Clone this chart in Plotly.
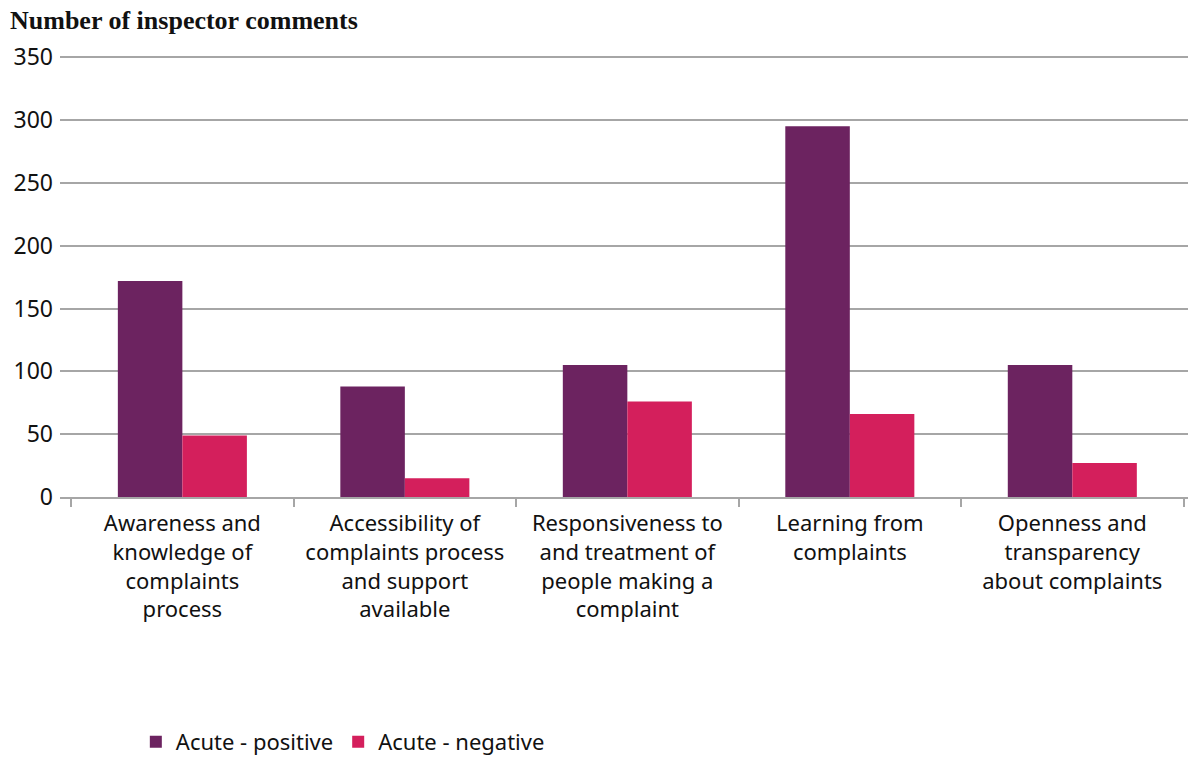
import plotly.graph_objects as go

categories = [
    "Awareness and<br>knowledge of<br>complaints<br>process",
    "Accessibility of<br>complaints process<br>and support<br>available",
    "Responsiveness to<br>and treatment of<br>people making a<br>complaint",
    "Learning from<br>complaints",
    "Openness and<br>transparency<br>about complaints",
]
acute_positive = [172, 88, 105, 295, 105]
acute_negative = [49, 15, 76, 66, 27]
y_ticks = [0, 50, 100, 150, 200, 250, 300, 350]

FONT = "Noto Sans"
fig = go.Figure()
fig.add_trace(go.Bar(x=categories, y=acute_positive, name="Acute - positive",
                     marker=dict(color="#6C2360", line=dict(width=0))))
fig.add_trace(go.Bar(x=categories, y=acute_negative, name="Acute - negative",
                     marker=dict(color="#D41F5C", line=dict(width=0))))

fig.update_layout(
    width=1190, height=760,
    margin=dict(l=60, r=2, t=56, b=263, autoexpand=False),
    paper_bgcolor="white", plot_bgcolor="white",
    barmode="group", bargap=0.42, bargroupgap=0,
    font=dict(family=FONT, color="#111111", size=21),
    title=dict(text="<b>Number of inspector comments</b>", x=10/1190, xref="container",
               xanchor="left", y=1-20/760, yref="container", yanchor="middle",
               font=dict(family="Liberation Serif", size=26, color="#111111")),
    xaxis=dict(range=[-0.55, 4.52], tickson="boundaries", ticks="outside", ticklen=8,
               tickcolor="#A6A6A6", tickwidth=2, showline=True, linecolor="#A6A6A6",
               linewidth=2, showgrid=False, tickfont=dict(size=22), fixedrange=True,
               automargin=False, ticklabelstandoff=6),
    yaxis=dict(range=[0, 351], tickvals=y_ticks, showgrid=True, gridcolor="#A6A6A6",
               gridwidth=2, zeroline=False, showline=False, ticks="",
               tickfont=dict(size=23), ticklabelstandoff=6, automargin=False,
               fixedrange=True),
    legend=dict(orientation="h", x=80/1190, xanchor="left", y=-(742-497)/441,
                yanchor="middle", font=dict(size=22), traceorder="normal",
                itemwidth=30),
)
fig.write_html("out.html", post_script="document.body.style.margin='0';",
               config={"displayModeBar": False})
